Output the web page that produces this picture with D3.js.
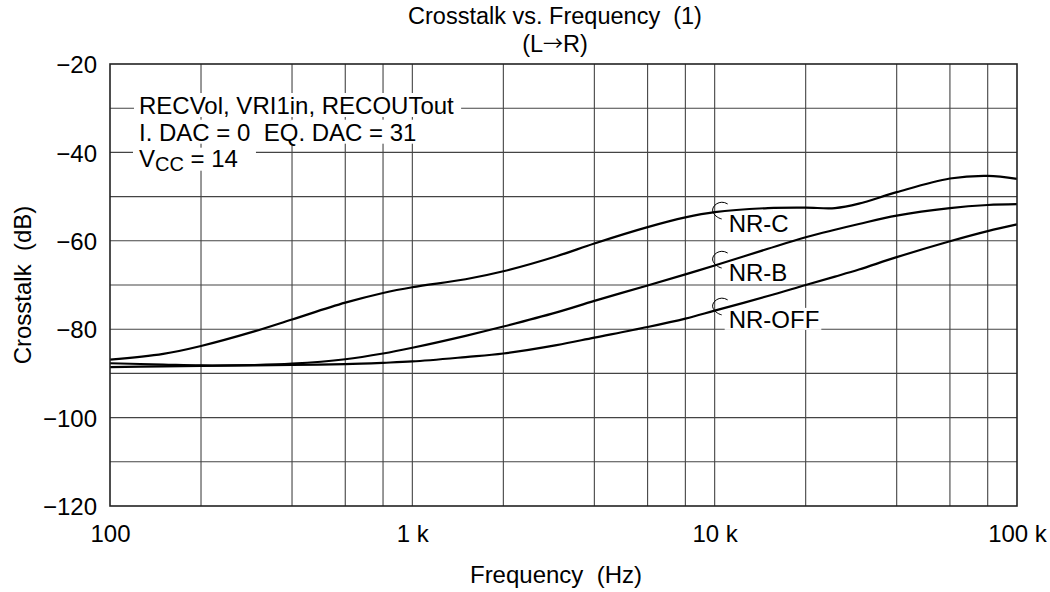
<!DOCTYPE html>
<html><head><meta charset="utf-8">
<script src="https://cdn.jsdelivr.net/npm/d3@7"></script>
<style>
html,body{margin:0;padding:0;background:#fff;}
text{font-family:"Liberation Sans",Arial,Helvetica,sans-serif;fill:#000;white-space:pre;}
</style></head>
<body>
<svg id="chart" width="1050" height="592"></svg>
<script>
// ---- data ----
const freqs   = [100,150,200,300,400,600,800,1000,1500,2000,3000,4000,6000,8000,10000,15000,20000,25000,30000,40000,60000,80000,100000];
const nrC     = [-86.9,-85.6,-83.8,-80.5,-77.8,-74.0,-71.8,-70.5,-68.7,-66.9,-63.5,-60.6,-56.9,-54.7,-53.5,-52.6,-52.5,-52.6,-51.6,-49.0,-45.9,-45.3,-46.0];
const nrB     = [-87.7,-88.0,-88.2,-88.1,-87.8,-86.8,-85.5,-84.2,-81.5,-79.4,-76.2,-73.6,-70.1,-67.6,-65.6,-61.8,-59.2,-57.5,-56.2,-54.3,-52.6,-51.9,-51.7];
const nrOff   = [-88.6,-88.4,-88.3,-88.2,-88.1,-87.9,-87.6,-87.3,-86.3,-85.5,-83.6,-81.9,-79.5,-77.6,-75.8,-72.5,-70.0,-68.1,-66.5,-63.7,-60.1,-57.8,-56.3];
const seriesNames = ["NR-C","NR-B","NR-OFF"];
const labelFreq = [10000,10000,10000];
const labelDb   = [-58.0,-69.1,-79.7];
const xTicks = [100,1000,10000,100000];
const xTickLabels = ["100","1 k","10 k","100 k"];
const yTicks = [-20,-40,-60,-80,-100,-120];
const yGrid  = [-30,-40,-50,-60,-70,-80,-90,-100,-110];
const xMinor = [200,400,600,800,2000,4000,6000,8000,20000,40000,60000,80000];
const titleLine1 = "Crosstalk vs. Frequency  (1)";
const titleLine2 = ["(L","\u2192","R)"];
const noteLines = ["RECVol, VRI1in, RECOUTout","I. DAC = 0  EQ. DAC = 31"];
const xLabel = "Frequency  (Hz)";
const yLabel = "Crosstalk  (dB)";

// ---- layout ----
const svg = d3.select("#chart");
const L = 110, R = 1017, T = 64, B = 506;
const x = d3.scaleLog().domain([100,100000]).range([L,R]);
const y = d3.scaleLinear().domain([-120,-20]).range([B,T]);
const FS = 24;

// grid
const grid = svg.append("g").attr("stroke","#444").attr("stroke-width",1.1);
grid.selectAll("line.v").data(xMinor.concat([1000,10000])).enter().append("line")
  .attr("x1",d=>x(d)).attr("x2",d=>x(d)).attr("y1",T).attr("y2",B);
grid.selectAll("line.h").data(yGrid).enter().append("line")
  .attr("x1",L).attr("x2",R).attr("y1",d=>y(d)).attr("y2",d=>y(d));

// text with white background helper
function bgText(g, xx, yy, build, pad){
  const t = g.append("text").attr("x",xx).attr("y",yy).attr("font-size",FS);
  build(t);
  const bb = t.node().getBBox();
  g.insert("rect","text:last-of-type")
   .attr("x",bb.x-pad[0]).attr("y",bb.y+pad[1]).attr("width",bb.width+pad[0]+pad[2]).attr("height",bb.height-pad[1]+pad[3])
   .attr("fill","#fff");
  return t;
}

// condition notes
const notes = svg.append("g");
noteLines.forEach((s,i)=>{
  const g = notes.append("g");
  bgText(g, 139, 114 + i*26.7, t=>t.text(s), [5,1,7,-2]);
});
{
  const g = notes.append("g");
  bgText(g, 139, 166.7, t=>{
    t.append("tspan").text("V");
    t.append("tspan").attr("dy",4).attr("font-size",20).text("CC");
    t.append("tspan").attr("dy",-4).text(" = 14");
  }, [6,3,18,-4]);
}

// curve labels
const lab = svg.append("g");
seriesNames.forEach((s,i)=>{
  const lx = x(labelFreq[i]) + 14, ly = y(labelDb[i]);
  const g = lab.append("g");
  bgText(g, lx, ly, t=>t.text(s), [4,2,2,-3]);
  g.append("path")
   .attr("d",`M ${lx-1},${ly-28} C ${lx-9},${ly-33} ${lx-17},${ly-26} ${lx-16},${ly-21} C ${lx-15},${ly-17} ${lx-11},${ly-14} ${lx-7},${ly-13}`)
   .attr("fill","none").attr("stroke","#000").attr("stroke-width",1);
});

// curves
const line = d3.line().x((d,i)=>x(freqs[i])).y(d=>y(d)).curve(d3.curveCatmullRom.alpha(0.5));
[nrC,nrB,nrOff].forEach(s=>{
  svg.append("path").attr("d",line(s)).attr("fill","none").attr("stroke","#000").attr("stroke-width",2.2);
});

// frame
svg.append("rect").attr("x",L).attr("y",T).attr("width",R-L).attr("height",B-T)
  .attr("fill","none").attr("stroke","#222").attr("stroke-width",1.6);

// y tick labels
const yAxis = d3.axisLeft(y).tickValues(yTicks).tickSize(0).tickPadding(13)
  .tickFormat(d=>String(d).replace("-","\u2212"));
const ya = svg.append("g").attr("transform",`translate(${L},0)`).call(yAxis);
ya.select(".domain").remove();
ya.selectAll("text").attr("font-size",FS).attr("font-family",null).attr("dy","0.36em");

// x tick labels
const xAxis = d3.axisBottom(x).tickValues(xTicks).tickSize(0).tickPadding(19)
  .tickFormat((d,i)=>xTickLabels[i]);
const xa = svg.append("g").attr("transform",`translate(0,${B})`).call(xAxis);
xa.select(".domain").remove();
xa.selectAll("text").attr("font-size",FS).attr("font-family",null);

// axis titles
svg.append("text").attr("x",556).attr("y",583).attr("text-anchor","middle").attr("font-size",FS).text(xLabel);
svg.append("text").attr("transform",`translate(31,${(T+B)/2}) rotate(-90)`).attr("text-anchor","middle").attr("font-size",FS).text(yLabel);

// title
svg.append("text").attr("x",555).attr("y",23.5).attr("text-anchor","middle").attr("font-size",23.5).text(titleLine1);
const t2 = svg.append("text").attr("x",555).attr("y",52).attr("text-anchor","middle").attr("font-size",23.5);
t2.append("tspan").text(titleLine2[0]);
t2.append("tspan").attr("font-family","Noto Sans CJK JP").attr("font-size",20).attr("dy",-1).text(titleLine2[1]);
t2.append("tspan").attr("dy",1).text(titleLine2[2]);
</script>
</body></html>
